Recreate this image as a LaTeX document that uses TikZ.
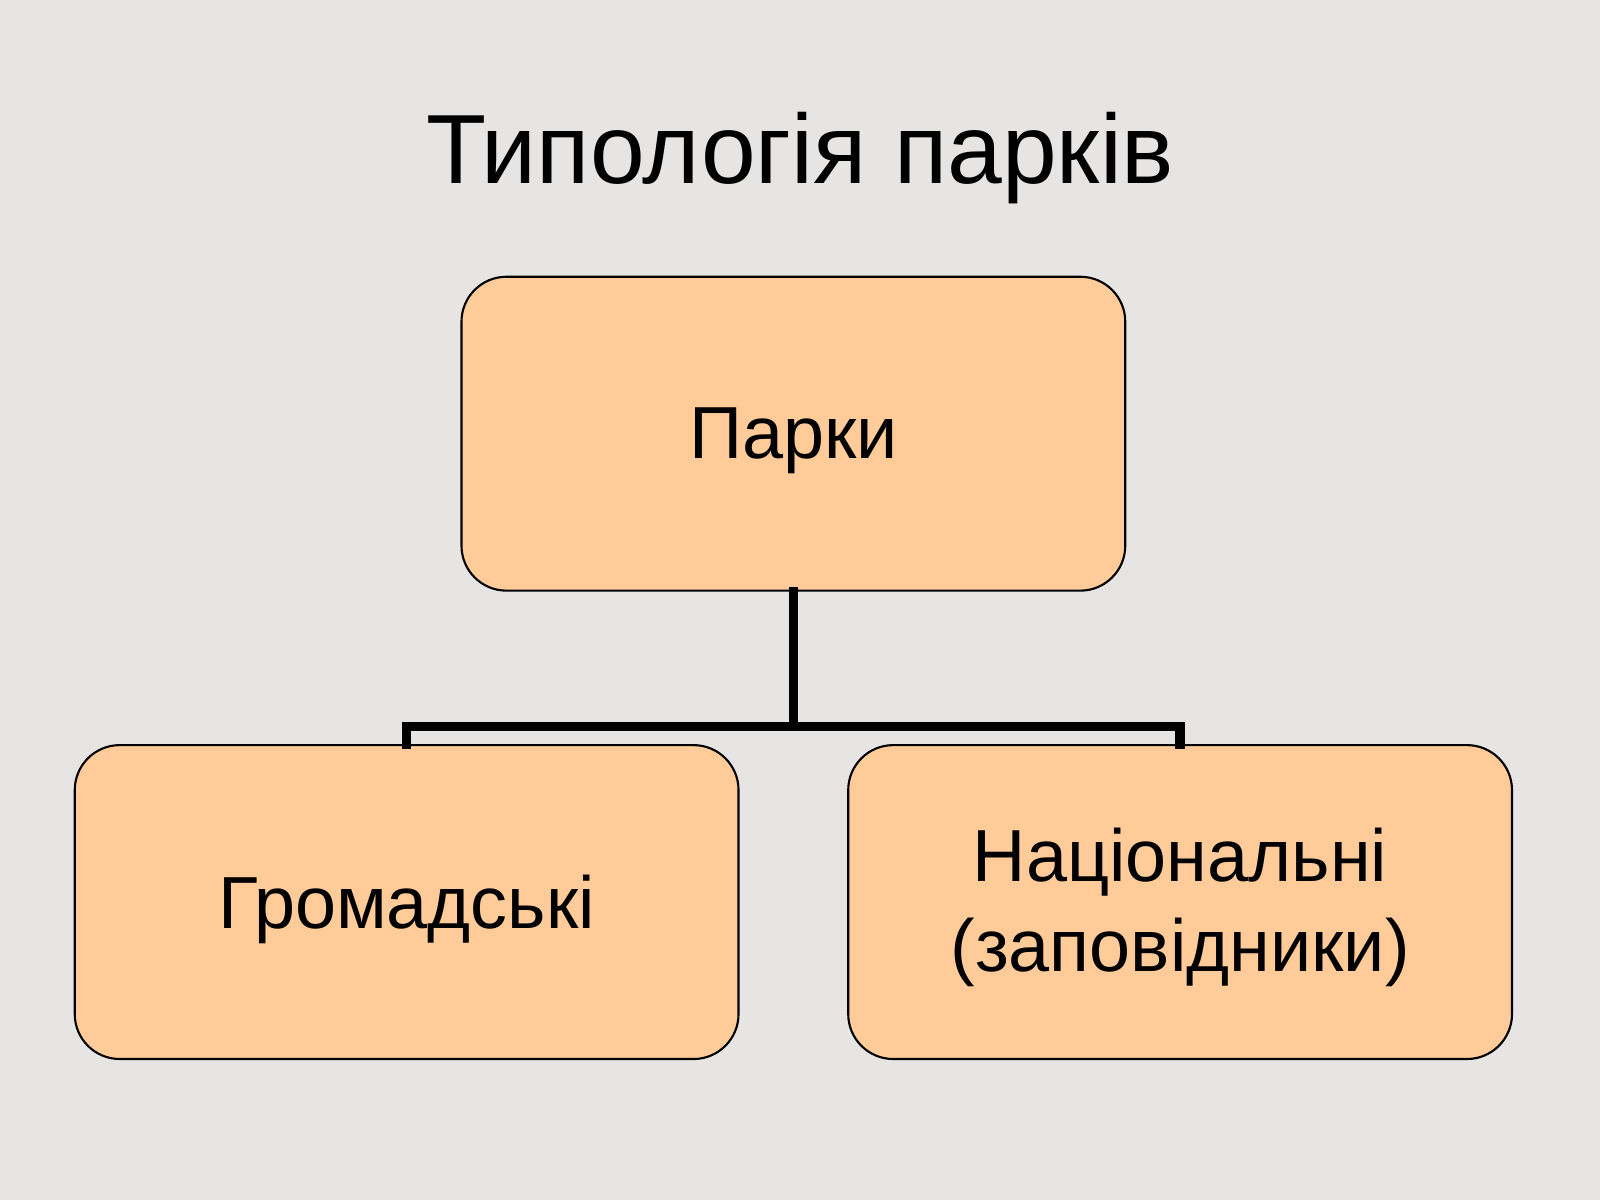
\documentclass[tikz,border=0pt]{standalone}
\usepackage{fontspec}
\setmainfont{Liberation Sans}
\definecolor{bg}{HTML}{E6E5E3}
\definecolor{boxfill}{HTML}{FFCC99}
\tikzset{
  pbox/.style={draw=black, line width=0.6pt, fill=boxfill, rounded corners=0.45cm,
    minimum width=6.64cm, minimum height=3.14cm},
  plabel/.style={align=center, font=\fontsize{21}{25.5}\selectfont},
  conn/.style={line width=2.7pt, line cap=rect}
}
\begin{document}
\begin{tikzpicture}[x=0.010204cm, y=-0.010204cm]
\fill[bg] (0,0) rectangle (1568,1176);
\useasboundingbox (0,0) rectangle (1568,1176);
\node[font=\fontsize{28}{32}\selectfont] (title) at (784,155) {Типологія парків};
\node[pbox] (top) at (777.5,425) {};
\node[pbox] (left) at (398.5,884) {};
\node[pbox] (right) at (1156.5,884) {};
\node[plabel] (tl) at (777.5,432) {Парки};
\node[plabel] (ll) at (398.5,891) {Громадські};
\node[plabel] (rl) at (1156.5,889) {Національні\\(заповідники)};
\coordinate (j) at (777.5,712);
\draw[conn] (top.south) -- (j);
\draw[conn] (left.north) -- (left.north |- j) -- (right.north |- j) -- (right.north);
\end{tikzpicture}
\end{document}
